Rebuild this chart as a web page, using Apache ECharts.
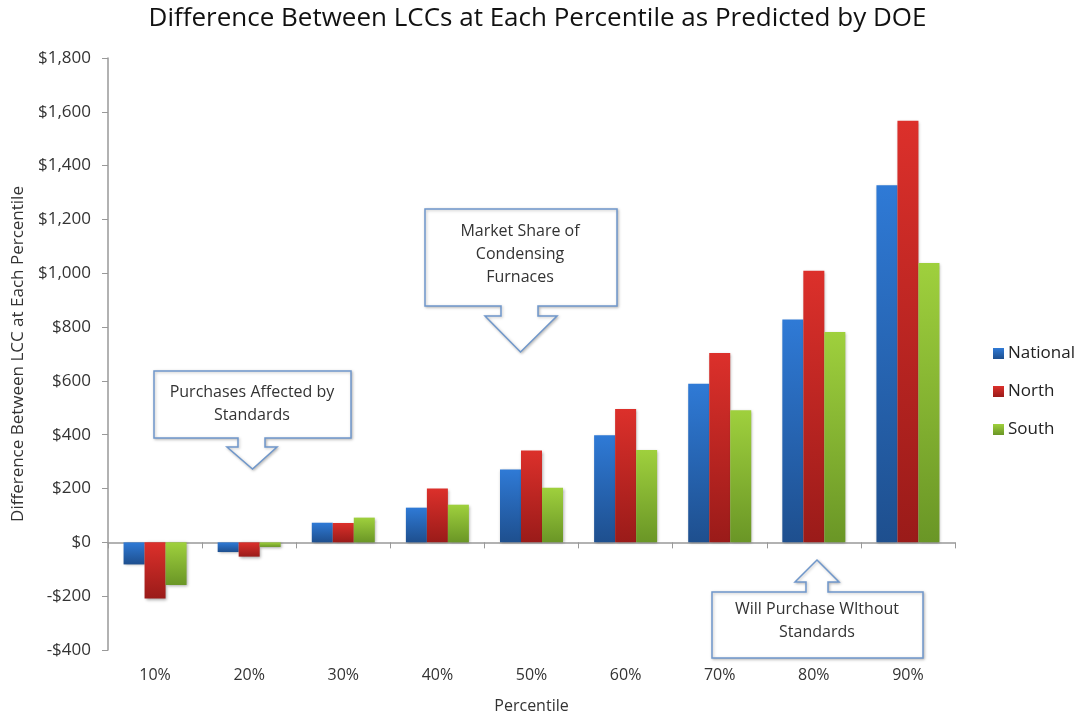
<!DOCTYPE html>
<html><head><meta charset="utf-8">
<script src="https://cdn.jsdelivr.net/npm/echarts@6/dist/echarts.min.js"></script>
<style>html,body{margin:0;padding:0;background:#fff}#c{width:1075px;height:717px}</style>
</head><body><div id="c"></div>
<script>
const categories = ['10%','20%','30%','40%','50%','60%','70%','80%','90%'];
const national = [-82, -36, 73, 129, 271, 398, 589, 828, 1327];
const north = [-209, -53, 72, 200, 341, 496, 704, 1009, 1567];
const south = [-158, -17, 92, 140, 203, 343, 491, 782, 1038];
const seriesNames = ['National','North','South'];
const yMin = -400, yMax = 1800, yStep = 200;

const FONT = 'Open Sans';
function grad(top, bottom){
  return new echarts.graphic.LinearGradient(0,0,0,1,[{offset:0,color:top},{offset:1,color:bottom}]);
}
const colors = [
  ['#2f7ad6','#1e4f8e'],
  ['#dc302b','#9a1b19'],
  ['#9fd03d','#6a9626']
];
function mkSeries(name, data, i){
  return {
    name, type:'bar', data, xAxisIndex:0,
    barWidth: 21, barGap: '0%',
    itemStyle:{ color: grad(colors[i][0], colors[i][1]),
      shadowColor:'rgba(0,0,0,0.35)', shadowBlur:3, shadowOffsetX:1, shadowOffsetY:1 }
  };
}
function callout(box, stem, wings, tipX, tipY, down){
  const [l,t,r,b] = box;
  let pts;
  if (down){
    pts = [[l,t],[r,t],[r,b],[stem[1],b],[stem[1],stem[2]],[wings[1],stem[2]],[tipX,tipY],[wings[0],stem[2]],[stem[0],stem[2]],[stem[0],b],[l,b]];
  } else {
    pts = [[l,t],[stem[0],t],[stem[0],stem[2]],[wings[0],stem[2]],[tipX,tipY],[wings[1],stem[2]],[stem[1],stem[2]],[stem[1],t],[r,t],[r,b],[l,b]];
  }
  return { type:'polygon', shape:{points:pts}, z:10,
    style:{ fill:'#fff', stroke:'#6f97cb', lineWidth:1.5,
      shadowColor:'rgba(0,0,0,0.25)', shadowBlur:3, shadowOffsetX:1, shadowOffsetY:1 } };
}
function ctext(x,y,txt){
  return { type:'text', x, y, z:11, style:{ text:txt, fill:'#333', font:'16px "'+FONT+'"', textAlign:'center', textVerticalAlign:'middle', lineHeight:23 } };
}

const chart = echarts.init(document.getElementById('c'), null, {renderer:'canvas'});
chart.setOption({
  animation:false,
  title:{ text:'Difference Between LCCs at Each Percentile as Predicted by DOE', left:'center', top:1,
    textStyle:{ fontFamily:FONT, fontSize:26, fontWeight:'normal', color:'#111' } },
  legend:{ orient:'vertical', left:988, top:340, itemGap:21, itemWidth:11, itemHeight:11,
    icon:'rect', textStyle:{ fontFamily:FONT, fontSize:17, color:'#222', padding:[0,0,0,-1] }, data:seriesNames },
  grid:{ left:108, right:120, top:58, bottom:67, containLabel:false, outerBoundsMode:'none' },
  xAxis:[{ type:'category', data:categories, position:'bottom',
    axisLine:{ show:false, onZero:false },
    axisTick:{ show:false },
    axisLabel:{ margin:17, fontFamily:FONT, fontSize:16, color:'#333' },
    name:'Percentile', nameLocation:'middle', nameGap:48,
    nameTextStyle:{ fontFamily:FONT, fontSize:16, color:'#333' } },
  { type:'category', data:categories, position:'top',
    axisLine:{ show:true, onZero:true, lineStyle:{ color:'#999', width:1.5 } },
    axisTick:{ show:true, inside:true, length:6, lineStyle:{ color:'#999' } },
    axisLabel:{ show:false } }],
  yAxis:{ type:'value', min:yMin, max:yMax, interval:yStep,
    axisLine:{ show:true, lineStyle:{ color:'#999', width:1.5 } },
    axisTick:{ show:true, length:6, lineStyle:{ color:'#999' } },
    splitLine:{ show:false },
    axisLabel:{ fontFamily:FONT, fontSize:17, color:'#333', margin:17,
      formatter: v => (v<0?'-':'') + '$' + Math.abs(v).toLocaleString('en-US') },
    name:'Difference Between LCC at Each Percentile', nameLocation:'middle', nameGap:81, nameRotate:90,
    nameTextStyle:{ fontFamily:FONT, fontSize:17, color:'#333' } },
  series:[ mkSeries('National', national, 0), mkSeries('North', north, 1), mkSeries('South', south, 2) ],
  graphic:[
    callout([154,371,351,438],[238,265,447],[227,277],252.5,469,true),
    ctext(252,404,'Purchases Affected by\nStandards'),
    callout([425,209,617,306],[501,538,316],[485,557],520.5,352,true),
    ctext(520,254,'Market Share of\nCondensing\nFurnaces'),
    callout([712,592,923,658],[806,828,582],[795,839],817,560,false),
    ctext(817,621,'Will Purchase WIthout\nStandards')
  ]
});
</script></body></html>
